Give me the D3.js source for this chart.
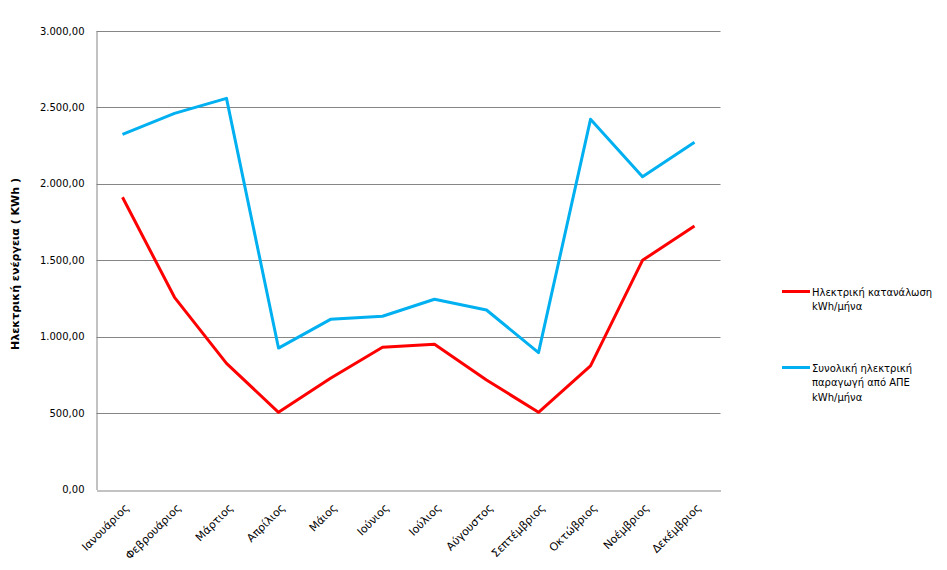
<!DOCTYPE html>
<html>
<head>
<meta charset="utf-8">
<script src="https://cdn.jsdelivr.net/npm/d3@7"></script>
<style>
  html, body { margin: 0; padding: 0; background: #fff; }
  text { font-family: "DejaVu Sans", Verdana, sans-serif; fill: #000; }
</style>
</head>
<body>
<svg id="chart" width="947" height="570"></svg>
<script>
const months = ["Ιανουάριος","Φεβρουάριος","Μάρτιος","Απρίλιος","Μάιος","Ιούνιος","Ιούλιος","Αύγουστος","Σεπτέμβριος","Οκτώβριος","Νοέμβριος","Δεκέμβριος"];
const consumption = [1911, 1257, 825, 505, 728, 930, 950, 716, 505, 808, 1499, 1723];
const production = [2323, 2460, 2558, 925, 1113, 1133, 1244, 1174, 895, 2421, 2046, 2271];
const yTicks = [0, 500, 1000, 1500, 2000, 2500, 3000];
const seriesNames = [["Ηλεκτρική κατανάλωση", "kWh/μήνα"], ["Συνολική ηλεκτρική", "παραγωγή από ΑΠΕ", "kWh/μήνα"]];
const seriesColors = ["#ff0000", "#00b0f0"];
const yTitle = "Ηλεκτρική ενέργεια ( KWh )";

const svg = d3.select("#chart");
const pLeft = 96.5, pRight = 720.5, pTop = 30.8, pBottom = 489.5;

const x = d3.scaleBand().domain(months).range([pLeft, pRight]);
const y = d3.scaleLinear().domain([0, 3000]).range([pBottom, pTop]);

const locale = d3.formatLocale({decimal: ",", thousands: ".", grouping: [3], currency: ["", "€"]});
const fmt = locale.format(",.2f");

// gridlines
svg.append("g").selectAll("line").data(yTicks.filter(d => d > 0)).join("line")
  .attr("x1", pLeft).attr("x2", pRight)
  .attr("y1", d => Math.round(y(d)) + 0.5).attr("y2", d => Math.round(y(d)) + 0.5)
  .attr("stroke", "#868686").attr("stroke-width", 1);

// y axis
const yAxis = svg.append("g").attr("transform", `translate(${pLeft},0)`)
  .call(d3.axisLeft(y).tickValues(yTicks).tickSize(0).tickPadding(12).tickFormat(fmt));
yAxis.select(".domain").attr("stroke", "#868686");
yAxis.selectAll("text").style("font-size", "10px").attr("fill", "#000");

// x axis
const xAxis = svg.append("g").attr("transform", `translate(0,${Math.round(pBottom) + 0.5})`)
  .call(d3.axisBottom(x).tickSize(0).tickPadding(0));
xAxis.select(".domain").attr("stroke", "#868686");
xAxis.selectAll("text")
  .style("font-size", "11px")
  .attr("fill", "#000")
  .attr("text-anchor", "end")
  .attr("dy", 0)
  .attr("transform", "translate(7,18) rotate(-45)");

// y title
svg.append("text")
  .attr("transform", `translate(19,264) rotate(-90)`)
  .attr("text-anchor", "middle")
  .style("font-size", "11px").style("font-weight", "bold")
  .text(yTitle);

// lines
const line = d3.line().x((d, i) => x(months[i]) + x.bandwidth() / 2).y(d => y(d));
[consumption, production].forEach((s, k) => {
  svg.append("path").datum(s)
    .attr("d", line)
    .attr("fill", "none")
    .attr("stroke", seriesColors[k])
    .attr("stroke-width", 3)
    .attr("stroke-linejoin", "round");
});

// legend
const legY = [291.5, 367.5];
seriesNames.forEach((lines, k) => {
  const g = svg.append("g");
  g.append("line").attr("x1", 782).attr("x2", 810).attr("y1", legY[k]).attr("y2", legY[k])
    .attr("stroke", seriesColors[k]).attr("stroke-width", 3);
  lines.forEach((t, j) => {
    g.append("text").attr("x", 812).attr("y", legY[k] + 4 + j * 14.5)
      .style("font-size", "10px").text(t);
  });
});
</script>
</body>
</html>
